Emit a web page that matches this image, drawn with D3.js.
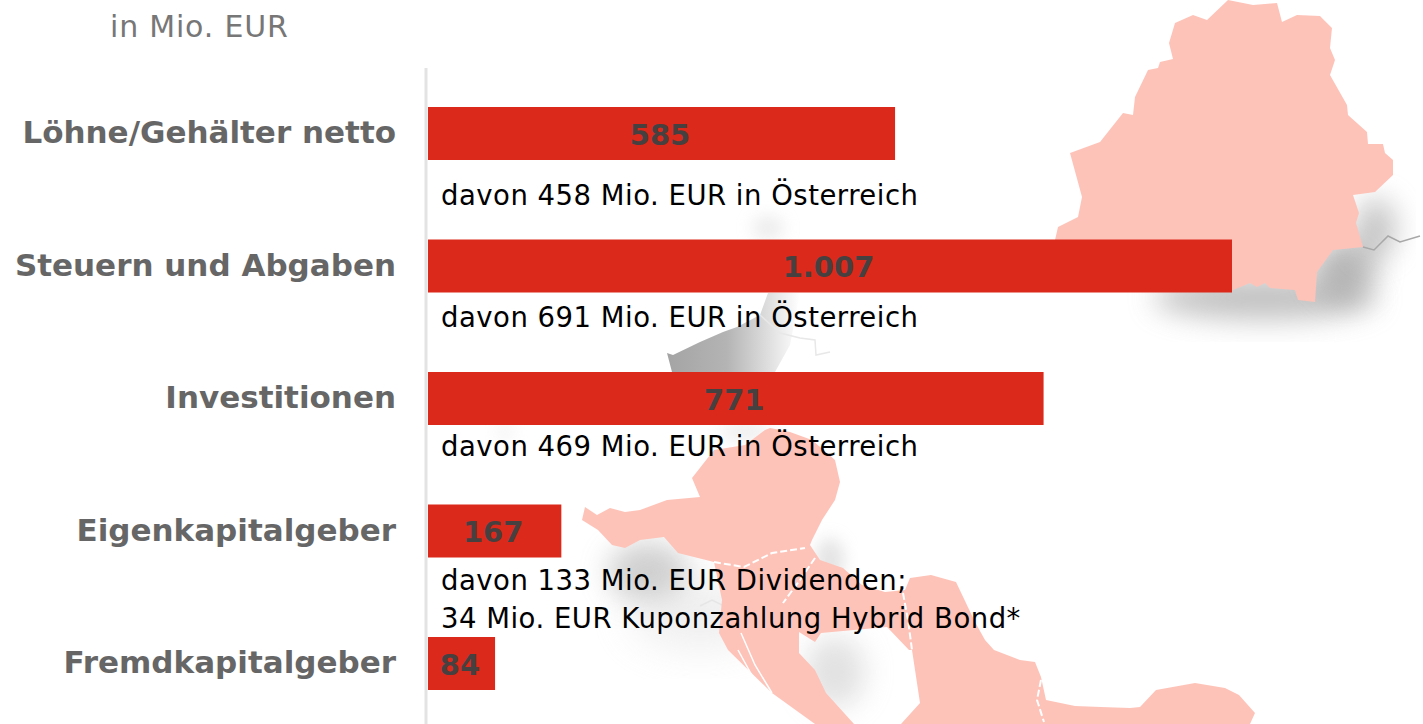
<!DOCTYPE html>
<html lang="de"><head><meta charset="utf-8">
<style>
html,body{margin:0;padding:0;background:#fff;overflow:hidden}
svg{display:block}
text{font-family:"DejaVu Sans",Verdana,sans-serif}
</style>
<script src="https://cdn.jsdelivr.net/npm/d3@7"></script>
</head><body>
<svg id="c" width="1423" height="724"></svg>
<script>
const categories = ["Löhne/Gehälter netto","Steuern und Abgaben","Investitionen","Eigenkapitalgeber","Fremdkapitalgeber"];
const values = [585,1007,771,167,84];
const notes = [
  ["davon 458 Mio. EUR in Österreich"],
  ["davon 691 Mio. EUR in Österreich"],
  ["davon 469 Mio. EUR in Österreich"],
  ["davon 133 Mio. EUR Dividenden;","34 Mio. EUR Kuponzahlung Hybrid Bond*"],
  []
];
const unitLabel = "in Mio. EUR";
const noteOffsets = [45,34,31,32,0];

const svg = d3.select("#c");
const defs = svg.append("defs");
[["b8",8],["b14",14],["b22",22],["b1",0.6]].forEach(([id,s])=>{
  defs.append("filter").attr("id",id).attr("x","-50%").attr("y","-50%").attr("width","200%").attr("height","200%")
    .append("feGaussianBlur").attr("stdDeviation",s);
});
const g1 = defs.append("linearGradient").attr("id","fade").attr("x1",0).attr("x2",1).attr("y1",0).attr("y2",0);
g1.append("stop").attr("offset",0).attr("stop-color","#a4a4a4");
g1.append("stop").attr("offset",0.45).attr("stop-color","#b4b4b4");
g1.append("stop").attr("offset",1).attr("stop-color","#ffffff");

// ---- decorative background map ----
const bg = svg.append("g");
const line = d3.line();
const shadows = [
  [1265,298,112,22,"#9a9a9a","b14",.6],
  [1345,268,32,30,"#8c8c8c","b14",.6],
  [1376,228,20,30,"#8c8c8c","b14",.5],
  [648,572,40,30,"#b0b0b0","b14",.6],
  [700,615,70,32,"#d8d8d8","b22",.45],
  [835,672,30,36,"#c4c4c4","b14",.5],
  [830,560,14,22,"#c8c8c8","b8",.5],
  [768,228,16,12,"#dddddd","b8",.55],
  [745,432,26,8,"#d6d6d6","b8",.45],
  [505,432,10,6,"#dedede","b8",.45]
];
bg.selectAll("ellipse").data(shadows).join("ellipse")
  .attr("cx",d=>d[0]).attr("cy",d=>d[1]).attr("rx",d=>d[2]).attr("ry",d=>d[3])
  .attr("fill",d=>d[4]).attr("filter",d=>`url(#${d[5]})`).attr("opacity",d=>d[6]);

// grey wedge between bars
bg.append("path").attr("fill","url(#fade)").attr("filter","url(#b1)")
  .attr("d",line([[667,353],[673,355],[700,342],[723,332],[737,327],[760,315],[768,293],[800,293],[790,345],[775,372],[672,372]])+"Z");
bg.append("path").attr("fill","none").attr("stroke","#e8e8e8").attr("stroke-width",1.5)
  .attr("d",line([[760,315],[780,333],[800,338],[815,340],[816,355],[830,352]]));
bg.append("path").attr("fill","none").attr("stroke","#a8a8a8").attr("stroke-width",1.5)
  .attr("d",line([[1363,247],[1374,250],[1388,236],[1400,242],[1420,236]]));
bg.append("path").attr("fill","none").attr("stroke","#e6e6e6").attr("stroke-width",1.5)
  .attr("d",line([[700,606],[712,600],[722,605]]));

const pink = "#fec3b8";
const topLand = [[1228,0],[1253,5],[1277,3],[1282,22],[1297,15],[1320,16],[1332,28],[1330,48],[1335,60],[1330,75],[1347,105],[1348,115],[1367,132],[1368,144],[1383,144],[1385,153],[1393,160],[1393,175],[1375,192],[1353,195],[1359,213],[1356,223],[1363,247],[1333,250],[1317,272],[1315,302],[1298,300],[1295,290],[1270,288],[1265,283],[1257,287],[1250,283],[1233,290],[1055,292],[1055,240],[1058,227],[1078,217],[1082,197],[1070,153],[1100,142],[1123,113],[1133,115],[1135,97],[1148,70],[1158,68],[1160,62],[1173,59],[1169,43],[1175,23],[1193,15],[1207,20]];
const midLand = [[770,428],[790,432],[812,440],[835,460],[840,482],[835,500],[822,520],[812,540],[810,545],[820,560],[843,568],[862,585],[885,592],[905,590],[910,578],[931,575],[956,582],[975,622],[985,640],[994,650],[1020,660],[1035,662],[1041,677],[1046,700],[1075,706],[1101,707],[1130,708],[1140,707],[1156,690],[1195,683],[1225,688],[1239,695],[1255,713],[1250,724],[901,724],[920,703],[912,650],[909,650],[887,627],[821,633],[815,642],[799,632],[799,653],[815,670],[826,693],[854,724],[815,724],[772,693],[728,650],[719,633],[722,600],[714,562],[678,553],[664,537],[640,540],[625,548],[612,545],[598,530],[582,520],[585,507],[597,515],[610,508],[625,512],[640,510],[667,500],[700,497],[692,478],[714,450],[745,445],[765,430]];
bg.append("path").attr("fill",pink).attr("filter","url(#b1)").attr("d",line(topLand)+"Z");
bg.append("path").attr("fill",pink).attr("filter","url(#b1)").attr("d",line(midLand)+"Z");
const borders = [
  [[714,562],[744,567],[772,553],[805,548]],
  [[815,558],[800,580],[783,603]],
  [[903,593],[908,620],[912,650]],
  [[1041,680],[1037,700],[1044,722]]
];
bg.selectAll("path.border").data(borders).join("path").attr("class","border")
  .attr("fill","none").attr("stroke","#fff").attr("stroke-width",2).attr("stroke-dasharray","7 3")
  .attr("d",d=>line(d));
bg.append("path").attr("fill","none").attr("stroke","#fff").attr("stroke-width",1.5)
  .attr("d",line([[741,633],[755,665],[772,693]]));
bg.append("path").attr("fill","none").attr("stroke","#fff").attr("stroke-width",1.5)
  .attr("d",line([[738,650],[760,690]]));

// ---- chart ----
const x = d3.scaleLinear().domain([0,1007]).range([428,1232]);
const y = d3.scaleBand().domain(categories).range([107,690]).paddingInner(0.6).paddingOuter(0);
const fmt = d3.formatLocale({decimal:",",thousands:".",grouping:[3],currency:["","€"]}).format(",d");
const rows = categories.map((c,i)=>({c,v:values[i],n:notes[i],o:noteOffsets[i]}));

svg.append("line").attr("x1",426).attr("x2",426).attr("y1",68).attr("y2",724)
  .attr("stroke","#e3e3e3").attr("stroke-width",3);

svg.append("text").attr("x",110).attr("y",37).attr("fill","#777")
  .style("font-size","30px").style("letter-spacing","0.8px").text(unitLabel);

const axis = svg.append("g").attr("transform","translate(428,0)")
  .call(d3.axisLeft(y).tickSize(0).tickPadding(32));
axis.select(".domain").remove();
axis.selectAll("text").attr("fill","#666").style("font-family","'DejaVu Sans',sans-serif")
  .style("font-size","31px").style("font-weight","bold");

svg.selectAll("rect.bar").data(rows).join("rect").attr("class","bar")
  .attr("x",x(0)).attr("y",d=>y(d.c)).attr("width",d=>x(d.v)-x(0)).attr("height",y.bandwidth())
  .attr("fill","#db291b");

svg.selectAll("text.val").data(rows).join("text").attr("class","val")
  .attr("x",d=>(x(0)+x(d.v))/2-1.5).attr("y",d=>y(d.c)+y.bandwidth()/2+11)
  .attr("text-anchor","middle").attr("fill","#474040")
  .style("font-size","29px").style("font-weight","bold").text(d=>fmt(d.v));

svg.selectAll("g.note").data(rows).join("g").attr("class","note")
  .attr("transform",d=>`translate(441,${y(d.c)+y.bandwidth()+d.o})`)
  .selectAll("text").data(d=>d.n).join("text")
  .attr("y",(d,i)=>i*38).attr("fill","#000").style("font-size","27.5px").style("letter-spacing","0.5px").text(d=>d);
</script>
</body></html>
